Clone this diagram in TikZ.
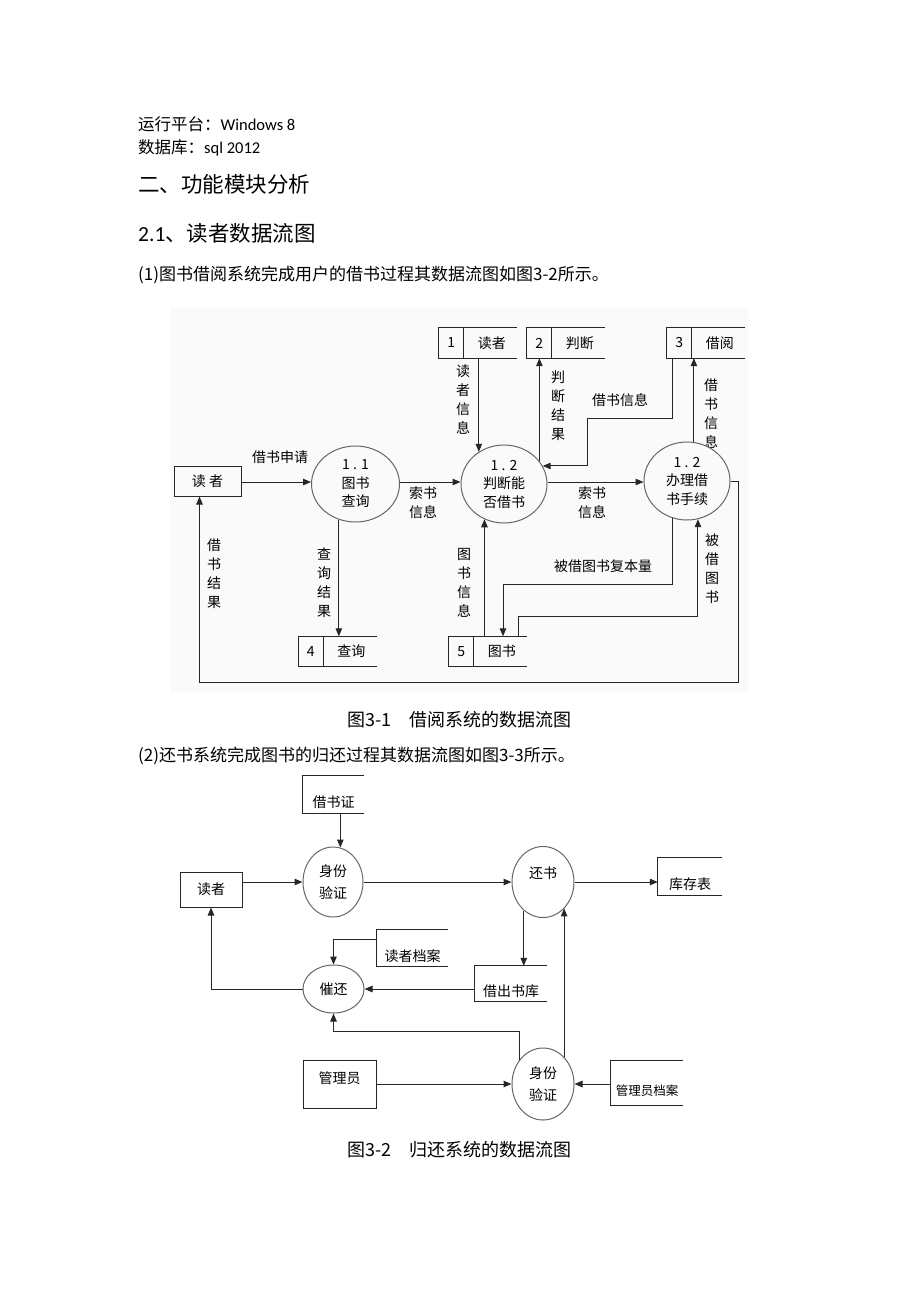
\documentclass[tikz,border=0pt]{standalone}
\usepackage{fontspec}
\setmainfont{Noto Sans CJK SC}
\newfontfamily\latinfont{Carlito}
\usetikzlibrary{arrows.meta,shapes.geometric,positioning}

\tikzset{
        flow/.style={draw=black!85, line width=1pt, -{Triangle[length=8pt,width=6.5pt]}},
        proc/.style={ellipse, draw=black!60, line width=1pt, inner sep=0pt, align=center,
                font=\fontsize{14}{18.5}\selectfont, text=black},
        entity/.style={rectangle, draw=black!85, line width=1pt, inner sep=0pt,
                font=\fontsize{14}{16}\selectfont, text=black},
        store/.style={rectangle, inner sep=0pt, minimum width=78pt, minimum height=30pt},
        lbl/.style={font=\fontsize{14}{19}\selectfont, align=center, text=black, inner sep=0pt},
        txt/.style={anchor=west, inner sep=0pt, text=black},
        caption/.style={inner sep=0pt, font=\fontsize{18}{20}\selectfont, text=black},
}

% Numbered data store, open on the right: name, centre, number, text.
\NewDocumentCommand{\numstore}{mmmm}{%
\node[store] (#1) at (#2) {};
\draw[line width=1pt, black!85] (#1.north east) -- (#1.north west) -- (#1.south west) -- (#1.south east);
\draw[line width=1pt, black!85] ([xshift=25pt]#1.north west) -- ([xshift=25pt]#1.south west);
\node[lbl] (#1n) at ([xshift=12.5pt]#1.west) {#3};
\node[lbl] (#1t) at ([xshift=53pt]#1.west) {#4};
}

% Plain data store, open on the right: name, centre, width, height, text.
\NewDocumentCommand{\openstore}{mmmmm}{%
\node[store, minimum width=#3, minimum height=#4] (#1) at (#2) {};
\draw[line width=1pt, black!85] (#1.north east) -- (#1.north west) -- (#1.south west) -- (#1.south east);
\node[lbl] (#1t) at ([yshift=-8pt]#1.center) {#5};
}

\begin{document}
\begin{tikzpicture}[x=1pt, y=-1pt]
        \useasboundingbox (0,0) rectangle (920,1302);

        \node[txt, font=\fontsize{16.5}{20}\selectfont] (platform) at (138,124) {运行平台：{\latinfont Windows 8}};
        \node[txt, font=\fontsize{16.5}{20}\selectfont] (database) at (138,148) {数据库：{\latinfont sql 2012}};
        \node[txt, font=\fontsize{21.5}{24}\selectfont] (section) at (138,184) {二、功能模块分析};
        \node[txt, font=\fontsize{21.5}{24}\selectfont] (subsection) at (138,233) {{\latinfont 2.1}、读者数据流图};
        \node[txt, font=\fontsize{17}{20}\selectfont] (intro1) at (138,275) {(1)图书借阅系统完成用户的借书过程其数据流图如图3-2所示。};

        % Borrowing system.
        \fill[black!2] (170,308) rectangle (748,692);
        \node[lbl] (l6) at (711,414) {借\\书\\信\\息};
        \node[entity, minimum width=67pt, minimum height=30pt] (reader) at (207.5,481) {读\ 者};
        \node[proc, fill=black!2, minimum width=88pt, minimum height=76pt] (q11) at (355.5,484) {1 . 1\\图书\\查询};
        \node[proc, fill=black!2, minimum width=86pt, minimum height=78pt] (q12) at (504,484) {1 . 2\\判断能\\否借书};
        \node[proc, fill=black!2, minimum width=86pt, minimum height=78pt] (q13) at (687,481) {1 . 2\\办理借\\书手续};
        \numstore{s1}{478,343}{1}{读者}
        \numstore{s2}{566,343}{2}{判断}
        \numstore{s3}{706,343}{3}{借阅}
        \numstore{s4}{337.5,651.5}{4}{查询}
        \numstore{s5}{488,651.5}{5}{图书}

        \coordinate (b1) at (587,418);
        \coordinate (b2) at (503,584);
        \coordinate (b3) at (518,616);
        \coordinate (b4) at (738,682);
        \draw[flow] (reader.east |- 0,482) -- (q11.west |- 0,482);
        \draw[flow] (q11.east |- 0,482) -- (q12.west |- 0,482);
        \draw[flow] (q12.east |- 0,482) -- (q13.west |- 0,482);
        \draw[flow] (q12.128 |- s1.south) -- (q12.128);
        \draw[flow] (q12.33) -- (q12.33 |- s2.south);
        \draw[flow] ([xshift=6pt]s3.south west) |- (b1) |- (q12.25);
        \draw[flow] (q13.80) -- (q13.80 |- s3.south);
        \draw[flow] (q11.245) -- (q11.245 |- s4.north);
        \draw[flow] (q12.241 |- s5.north) -- (q12.241);
        \draw[flow] (q13.249) |- (b2) -- (b2 |- s5.north);
        \draw[flow] (b3 |- s5.north) -- (b3) -| (q13.286);
        \draw[flow] (q13.east) -| (b4) -| ([xshift=-8pt]reader.south);

        \node[lbl] (l1) at (280,457) {借书申请};
        \node[lbl] (l2) at (463,399.5) {读\\者\\信\\息};
        \node[lbl] (l3) at (558,406) {判\\断\\结\\果};
        \node[lbl] (l4) at (620,400) {借书信息};
        \node[lbl] (l5) at (423,502.5) {索书\\信息};
        \node[lbl] (l7) at (592,502.5) {索书\\信息};
        \node[lbl] (l8) at (324,583) {查\\询\\结\\果};
        \node[lbl] (l9) at (464,583) {图\\书\\信\\息};
        \node[lbl] (l10) at (603,566) {被借图书复本量};
        \node[lbl] (l11) at (712,568.5) {被\\借\\图\\书};
        \node[lbl] (l12) at (214,573.5) {借\\书\\结\\果};

        \node[caption] (cap1) at (459.5,720) {图3-1　借阅系统的数据流图};
        \node[txt, font=\fontsize{17}{20}\selectfont] (intro2) at (138,756) {(2)还书系统完成图书的归还过程其数据流图如图3-3所示。};

        % Return system.
        \openstore{card}{333.5,794.5}{61pt}{37pt}{借书证}
        \node[proc, minimum width=60pt, minimum height=70pt] (id1) at (333,882) {身份\\[3.5pt]验证};
        \node[entity, minimum width=62pt, minimum height=35pt] (reader2) at (211,889.5) {读者};
        \node[proc, minimum width=62pt, minimum height=71pt] (ret) at (543,882) {};
        \node[lbl] (rett) at ([yshift=9pt]ret.center) {还书};
        \openstore{stock}{690,876.5}{64pt}{37pt}{库存表}
        \openstore{lent}{511,983.5}{72pt}{35pt}{借出书库}
        \openstore{rfile}{412.5,948}{71pt}{36pt}{读者档案}
        \node[proc, minimum width=61pt, minimum height=48pt] (urge) at (333.5,989) {催还};
        \node[entity, minimum width=73pt, minimum height=48pt] (admin) at (339.5,1084) {};
        \node[lbl] (admint) at ([yshift=6pt]admin.center) {管理员};
        \node[proc, minimum width=62pt, minimum height=72pt] (id2) at (543,1084) {身份\\[3.5pt]验证};
        \openstore{afile}{647,1083}{72pt}{44pt}{\fontsize{12.5}{14}\selectfont 管理员档案}

        \draw[flow] (id1.78 |- card.south) -- (id1.78);
        \draw[flow] (reader2.east |- id1.west) -- (id1.west);
        \draw[flow] (id1) -- (ret);
        \draw[flow] (ret.east) -- (ret.east -| stock.west);
        \draw[flow] (ret.236) -- (ret.236 |- lent.north);
        \draw[flow] (id2.52) -- (id2.52 |- ret.-51);
        \draw[flow] ([yshift=9pt]rfile.west) -| (urge.north);
        \draw[flow] (lent.west |- urge.east) -- (urge.east);
        \draw[flow] (urge.west) -| (reader2.south);
        \draw[flow] (id2.134) |- ([yshift=-18pt]urge.south) -- (urge.south);
        \draw[flow] (admin.east |- id2.west) -- (id2.west);
        \draw[flow] (afile.west |- id2.east) -- (id2.east);

        \node[caption] (cap2) at (459.5,1150) {图3-2　归还系统的数据流图};
\end{tikzpicture}
\end{document}
